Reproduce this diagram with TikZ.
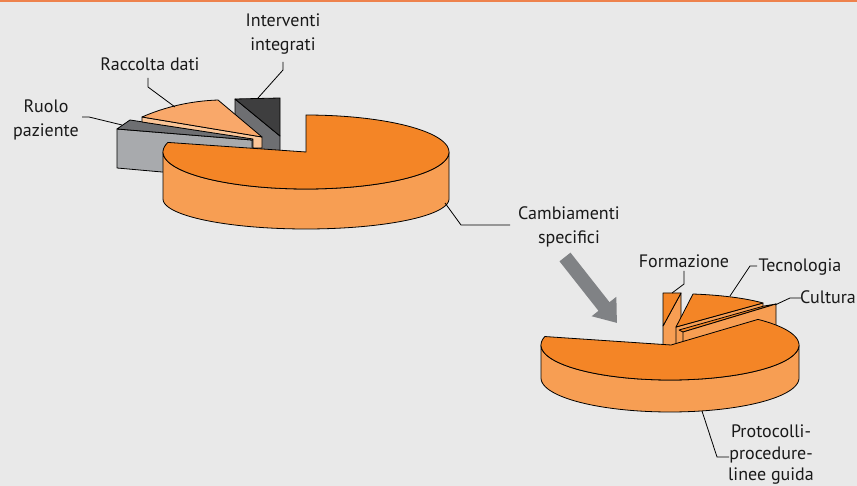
\documentclass[tikz,border=0pt]{standalone}
\usepackage{fontspec}
\newfontfamily\lblfont{PT Sans}
\usetikzlibrary{arrows.meta}
\definecolor{bgc}{HTML}{E9E9E9}
\definecolor{stripe}{HTML}{EE824D}
\definecolor{orTop}{HTML}{F48526}
\definecolor{orSide}{HTML}{F79E53}
\definecolor{peTop}{HTML}{F9A86A}
\definecolor{peSide}{HTML}{FBC597}
\definecolor{grLight}{HTML}{A8AAAD}
\definecolor{grMid}{HTML}{6E6F72}
\definecolor{grDark}{HTML}{3E3E3F}
\definecolor{arrowc}{HTML}{808285}
\tikzset{
  face/.style={draw=black, line width=0.8pt, line join=round},
  lbl/.style={font=\lblfont\fontsize{18}{24}\selectfont, align=center, inner sep=0pt, text=black!90},
  lbltight/.style={lbl, font=\lblfont\fontsize{18}{21.5}\selectfont},
  leader/.style={draw=black, line width=0.8pt},
}
\begin{document}
\begin{tikzpicture}[x=1pt,y=-1pt]
\useasboundingbox (0,0) rectangle (857,486);
\clip (0,0) rectangle (857,486);
\fill[bgc] (0,0) rectangle (857,486);
\fill[stripe] (0,0) rectangle (857,2.5);

% ---------- first pie: exploded slices ----------
% Interventi integrati
\filldraw[face, fill=grMid] (235,99) -- (280,136) -- (280,153) -- (235,153) -- cycle;
\filldraw[face, fill=grDark] (235,99) -- (280,98) -- (280,136) -- cycle;
% Ruolo paziente
\filldraw[face, fill=grLight] (117,129) -- (252,140) -- (252,180) -- (117,168) -- cycle;
\filldraw[face, fill=grMid] (117,129) -- (130,120) -- (255,139) -- (252,140) -- cycle;
% Raccolta dati
\filldraw[face, fill=peSide] (142,117) -- (262,137) -- (262,148) -- (253,148) -- (253,139) -- (142,122) -- cycle;
\filldraw[face, fill=peTop] (142,117) .. controls (165,107) and (190,101) .. (218,100) -- (262,137) -- cycle;
% main slice
\filldraw[face, fill=orSide] plot[domain=180:360, samples=60] ({306+143*cos(\x)},{152-37*sin(\x)})
   -- plot[domain=360:180, samples=60] ({306+143*cos(\x)},{199-30*sin(\x)}) -- cycle;
\filldraw[face, fill=orTop] (306,152) -- plot[domain=165:450, samples=90] ({306+143*cos(\x)},{152-37*sin(\x)}) -- cycle;

% ---------- second pie: exploded slices ----------
% Formazione
\filldraw[face, fill=orSide] (663,326) -- (681,293) -- (681,346) -- (663,346) -- cycle;
\filldraw[face, fill=orTop] (663,293) -- (681,293) -- (663,326) -- cycle;
% Tecnologia
\filldraw[face, fill=orSide] (676,327) -- (763,303) -- (763,340) -- (676,350) -- cycle;
\filldraw[face, fill=orTop] (676,327) -- (693,294) .. controls (720,295) and (745,298) .. (763,303) -- cycle;
% Cultura
\filldraw[face, fill=orTop] (679,330) -- (764,306) -- (776,304) -- (683,332) -- cycle;
\filldraw[face, fill=orSide] (683,332) -- (776,304) -- (776,340) -- (683,350) -- cycle;
% main slice
\filldraw[face, fill=orSide] plot[domain=180:360, samples=60] ({670+129*cos(\x)},{345-35*sin(\x)})
   -- plot[domain=360:180, samples=60] ({670+129*cos(\x)},{378-34*sin(\x)}) -- cycle;
\filldraw[face, fill=orTop] (671,345) -- plot[domain=166:407, samples=90] ({670+129*cos(\x)},{345-35*sin(\x)}) -- cycle;

% ---------- arrow between the pies ----------
\coordinate (arrTail) at (565,257);
\coordinate (arrTip) at (617,323);
\draw[arrowc, line width=14pt, -{Triangle[width=30pt,length=21pt]}] (arrTail) -- (arrTip);

% ---------- labels ----------
\node[lbl] (lblInt) at (283,34) {Interventi\\integrati};
\node[lbl] (lblRac) at (150,64) {Raccolta dati};
\node[lbl] (lblRuo) at (46,120) {Ruolo\\paziente};
\node[lbl] (lblCam) at (569,227) {Cambiamenti\\specifici};
\node[lbl] (lblFor) at (684,261) {Formazione};
\node[lbl] (lblTec) at (800,267) {Tecnologia};
\node[lbl] (lblCul) at (828,297) {Cultura};
\node[lbltight] (lblPro) at (771,455) {Protocolli-\\procedure-\\linee guida};

% ---------- leader lines ----------
\coordinate (ldInt1) at (283,62);  \coordinate (ldInt2) at (283,70);  \coordinate (ldInt3) at (258,98);
\coordinate (ldRac1) at (148,78);  \coordinate (ldRac2) at (148,87);  \coordinate (ldRac3) at (175,107);
\coordinate (ldRuo1) at (82,117);  \coordinate (ldRuo2) at (89,117);  \coordinate (ldRuo3) at (122,125);
\coordinate (ldCam1) at (510,225); \coordinate (ldCam2) at (461,225); \coordinate (ldCam3) at (445,203);
\coordinate (ldFor1) at (684,271); \coordinate (ldFor2) at (684,284); \coordinate (ldFor3) at (672,293);
\coordinate (ldTec1) at (757,266); \coordinate (ldTec2) at (750,266); \coordinate (ldTec3) at (730,296);
\coordinate (ldCul1) at (801,298); \coordinate (ldCul2) at (790,298); \coordinate (ldCul3) at (775,305);
\coordinate (ldPro1) at (729,457); \coordinate (ldPro2) at (717,457); \coordinate (ldPro3) at (702,411);
\draw[leader] (ldInt1) -- (ldInt2) -- (ldInt3);
\draw[leader] (ldRac1) -- (ldRac2) -- (ldRac3);
\draw[leader] (ldRuo1) -- (ldRuo2) -- (ldRuo3);
\draw[leader] (ldCam1) -- (ldCam2) -- (ldCam3);
\draw[leader] (ldFor1) -- (ldFor2) -- (ldFor3);
\draw[leader] (ldTec1) -- (ldTec2) -- (ldTec3);
\draw[leader] (ldCul1) -- (ldCul2) -- (ldCul3);
\draw[leader] (ldPro1) -- (ldPro2) -- (ldPro3);
\end{tikzpicture}
\end{document}
